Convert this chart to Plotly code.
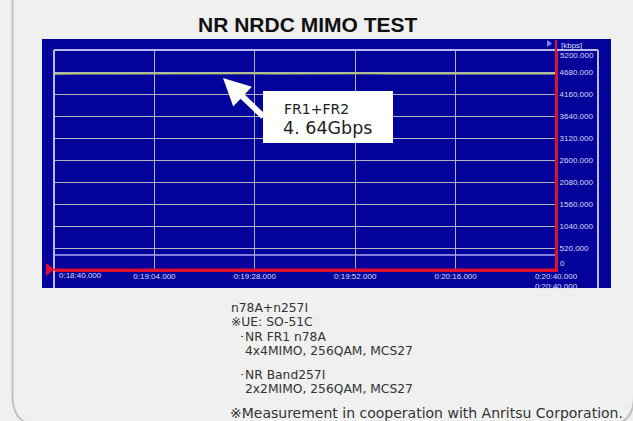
import plotly.graph_objects as go

# ---- data -------------------------------------------------------------
# elapsed time in seconds (0:18:40 = 1120 s ... 0:20:40 = 1240 s)
fr_times = [1120, 1124, 1128, 1132, 1136, 1140, 1144, 1148, 1152, 1156, 1160,
            1164, 1168, 1172, 1176, 1180, 1184, 1188, 1192, 1196, 1200, 1204,
            1208, 1212, 1216, 1220, 1224, 1228, 1232, 1236, 1240]
# aggregated FR1+FR2 throughput
fr1_fr2_tput = [4636, 4642, 4640, 4645, 4638, 4641, 4644, 4637, 4640, 4643, 4639,
                4642, 4646, 4638, 4641, 4640, 4644, 4636, 4641, 4643, 4639, 4640,
                4645, 4637, 4642, 4640, 4638, 4643, 4641, 4639, 4640]
# low-rate reference trace
ref_times = [1120, 1150, 1180, 1210, 1240]
ref_tput = [355, 356, 354, 355, 355]

x_tick_vals = [1120, 1144, 1168, 1192, 1216, 1240]
x_tick_text = ["0:18:40.000", "0:19:04.000", "0:19:28.000", "0:19:52.000",
               "0:20:16.000", "0:20:40.000"]
y_tick_vals = [0, 520, 1040, 1560, 2080, 2600, 3120, 3640, 4160, 4680, 5200]
y_tick_text = ["0", "520.000", "1040.000", "1560.000", "2080.000", "2600.000",
               "3120.000", "3640.000", "4160.000", "4680.000", "5200.000"]

title_text = "NR NRDC MIMO TEST"
callout_lines = ["FR1+FR2", "4. 64Gbps"]
notes = ["n78A+n257I", "※UE: SO-51C", "･NR FR1 n78A", "4x4MIMO, 256QAM, MCS27",
         "･NR Band257I", "2x2MIMO, 256QAM, MCS27"]
credit = "※Measurement in cooperation with Anritsu Corporation."

# ---- layout geometry ----------------------------------------------------
W, H = 633, 421
ML, MR, MT, MB = 54, 77, 50, 151
PW, PH = W - ML - MR, H - MT - MB


def px(x):
    return (x - ML) / PW


def py(y):
    return (H - MB - y) / PH


BLUE = "#03039c"
GRID = "#b2b2bc"
FRAME = "#b8b8ec"
RED = "#e0102a"
LABEL = "#dcdcf4"
BODY_FONT = "DejaVu Sans"
SMALL = dict(family="Liberation Sans, Arial", size=8, color=LABEL)

fig = go.Figure()
fig.add_trace(go.Scatter(x=ref_times, y=ref_tput, mode="lines",
                         line=dict(color="#a8a8f4", width=1.3), hoverinfo="skip"))
fig.add_trace(go.Scatter(x=fr_times, y=fr1_fr2_tput, mode="lines",
                         line=dict(color="#b2cc74", width=1.6), hoverinfo="skip"))

fig.update_xaxes(range=[1120, 1240], tickvals=x_tick_vals,
                 ticktext=[""] + x_tick_text[1:-1] + [x_tick_text[-1] + "<br>" + x_tick_text[-1]],
                 showgrid=True, gridcolor=GRID, gridwidth=1, zeroline=False,
                 showline=True, linecolor=RED, linewidth=2, ticks="", tickfont=SMALL,
                 ticklabelstandoff=-3)
fig.update_yaxes(range=[0, 5200], side="right", tickvals=y_tick_vals,
                 ticktext=[""] + y_tick_text[1:-1] + [""],
                 showgrid=True, gridcolor=GRID, gridwidth=1, zeroline=False,
                 showline=True, linecolor=RED, linewidth=2, ticks="", tickfont=SMALL)


def rect(x0, y0, x1, y1, **kw):
    return dict(type="rect", xref="paper", yref="paper",
                x0=px(x0), x1=px(x1), y0=py(y1), y1=py(y0), **kw)


def seg(x0, y0, x1, y1, color, width, layer="above"):
    return dict(type="line", xref="paper", yref="paper", x0=px(x0), y0=py(y0),
                x1=px(x1), y1=py(y1), line=dict(color=color, width=width), layer=layer)


def path(points, **kw):
    d = "M " + " L ".join(f"{px(a)},{py(b)}" for a, b in points) + " Z"
    return dict(type="path", xref="paper", yref="paper", path=d, **kw)


# card outline with rounded lower corners
card = (f"M {px(12.5)},{py(-5)} L {px(12.5)},{py(396)} "
        f"Q {px(12.5)},{py(426)} {px(42)},{py(426)} L {px(604)},{py(426)} "
        f"Q {px(634)},{py(426)} {px(634)},{py(396)} L {px(634)},{py(-5)}")

shapes = [
    dict(type="path", xref="paper", yref="paper", path=card,
         line=dict(color="#c2c2c2", width=2), layer="below"),
    rect(42, 39, 611, 288, fillcolor=BLUE, line=dict(width=0), layer="below"),
    # instrument frame
    seg(54, 50, 598, 50, FRAME, 2),
    seg(54, 50, 54, 288, FRAME, 2),
    seg(598, 50, 598, 288, FRAME, 2),
    # red markers / cursor lines
    seg(47, 269.5, 556, 269.5, RED, 2),
    seg(556, 40, 556, 270, RED, 2),
    path([(46, 263), (54, 269.5), (46, 276)], fillcolor=RED, line=dict(width=0), layer="above"),
    path([(547, 40), (552, 43.5), (547, 47)], fillcolor="#6a96ff", line=dict(width=0), layer="above"),
    # clip the lower time label at the panel edge
    rect(500, 288.5, 615, 300, fillcolor="#f0f0f0", line=dict(width=0), layer="above"),
]

ann = []


def text(x, y, s, size, color="#333333", family=BODY_FONT, xanchor="left", **kw):
    ann.append(dict(xref="paper", yref="paper", x=px(x), y=py(y), text=s,
                    showarrow=False, xanchor=xanchor, yanchor="middle",
                    font=dict(family=family, size=size, color=color), **kw))


text(307, 24, f"<b>{title_text}</b>", 21, color="#111111",
     family="Liberation Sans, Arial", xanchor="center")

# axis end labels kept inside the panel
text(57, 275, x_tick_text[0], 8, color=LABEL, family="Liberation Sans, Arial")
text(558, 56, y_tick_text[-1], 8, color=LABEL, family="Liberation Sans, Arial")
text(558, 263, y_tick_text[0], 8, color=LABEL, family="Liberation Sans, Arial")
text(559, 45, "[kbps]", 8, color=LABEL, family="Liberation Sans, Arial")

# call-out arrow and box
ann.append(dict(xref="paper", yref="paper", x=px(223), y=py(78), ax=42, ay=40,
                text="", showarrow=True, arrowhead=2, arrowsize=0.9, arrowwidth=6,
                arrowcolor="#ffffff", standoff=0, startstandoff=0))
ann.append(dict(xref="paper", yref="paper", x=px(263), y=py(91), xanchor="left",
                yanchor="top", text=" ", showarrow=False, width=130, height=52,
                bgcolor="#ffffff", borderpad=0, borderwidth=0))
text(282, 109, callout_lines[0], 14, color="#222222")
text(281, 128, callout_lines[1], 17.5, color="#222222")

note_pos = [(229, 308), (229, 322), (237, 336.5), (243, 350.5), (237, 375), (243, 389)]
for (x, y), s in zip(note_pos, notes):
    text(x, y, s, 12.3)
text(228, 413, credit, 14)

fig.update_layout(width=W, height=H, margin=dict(l=ML, r=MR, t=MT, b=MB),
                  paper_bgcolor="#f0f0f0", plot_bgcolor=BLUE, showlegend=False,
                  shapes=shapes, annotations=ann)

fig.write_html("out.html")
